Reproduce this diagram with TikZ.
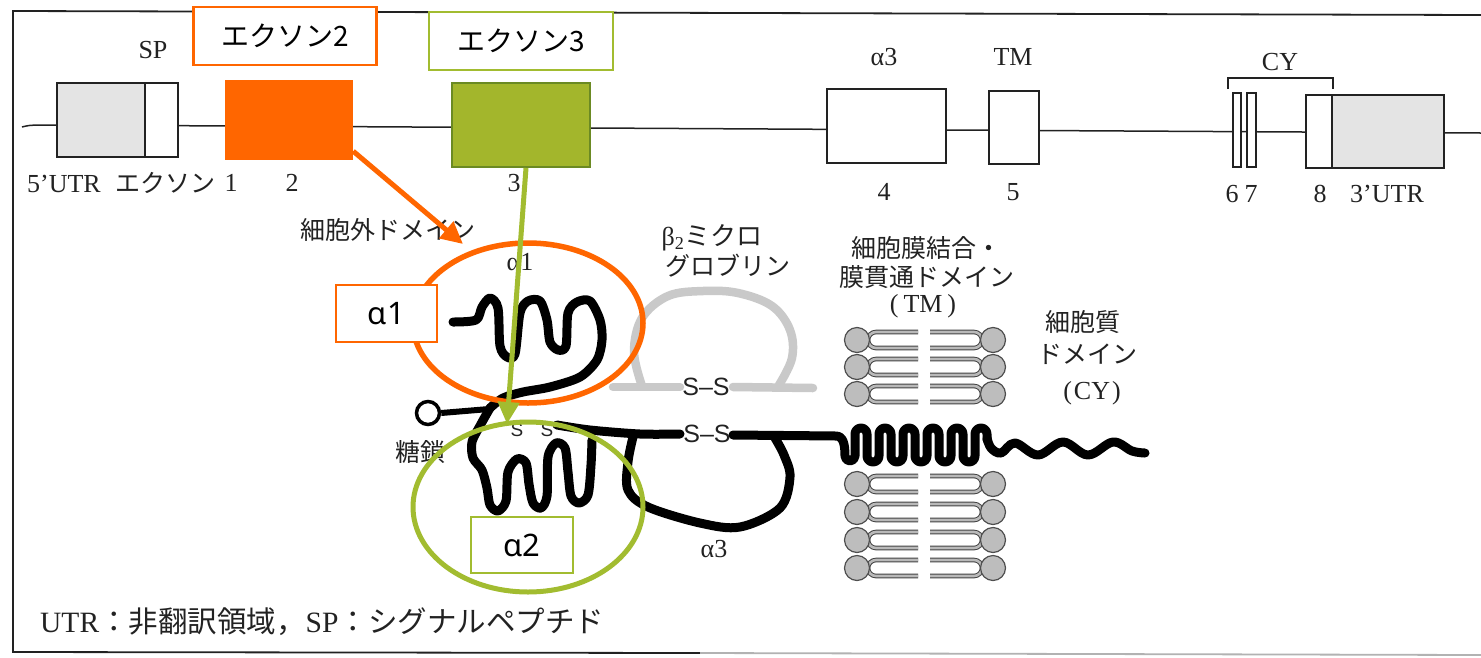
\documentclass[tikz,border=0pt]{standalone}
\usepackage{fontspec}
\setmainfont{Liberation Serif}
\newfontfamily\jp{Noto Sans CJK JP}
\newfontfamily\grk{Noto Sans}
\newfontfamily\ssf{Liberation Sans}
\usetikzlibrary{arrows.meta,calc}
\definecolor{ink}{HTML}{222222}
\definecolor{orng}{HTML}{FF6600}
\definecolor{grnE}{HTML}{A3B62C}
\definecolor{grnD}{HTML}{6B8A23}
\definecolor{grnL}{HTML}{A2BC30}
\definecolor{utrgray}{HTML}{E4E4E4}
\definecolor{btwo}{HTML}{C9C9C9}
\definecolor{lhead}{HTML}{BDBDBD}
\begin{document}
\begin{tikzpicture}[x=1pt,y=-1pt,
  lab/.style={text=ink, inner sep=0pt, font=\fontsize{26}{30}\selectfont},
  jlab/.style={text=ink, inner sep=0pt, font=\jp\fontsize{25}{30}\selectfont},
  sslab/.style={text=ink, inner sep=0pt, font=\ssf\fontsize{25}{30}\selectfont},
  exonbox/.style={draw=ink, line width=1.3pt, fill=white, inner sep=0pt},
  tagbox/.style={fill=white, line width=2.5pt, inner sep=0pt, font=\jp\fontsize{28}{32}\selectfont, text=black},
  dombox/.style={fill=white, line width=2.5pt, inner sep=0pt, font=\grk\fontsize{31}{34}\selectfont, text=black},
  chain/.style={line width=9pt, line cap=round, line join=round, draw=black},
  bchain/.style={line width=8.5pt, line cap=round, line join=round, draw=btwo},
  lipidtail/.style={draw=ink!85, line width=1pt, double=gray!55, double distance=2.6pt},
  lipidhead/.style={circle, draw=ink!80, line width=1.2pt, fill=lhead, minimum size=25pt, inner sep=0pt},
  framel/.style={draw=ink, line width=1.8pt}
]
\fill[white] (0,0) rectangle (1481,657);
\useasboundingbox (0,0) rectangle (1481,657);

% frame
\draw[framel] (1481,15) -- (13,11) -- (13,652) -- (700,653);
\draw[draw=gray!60, line width=1.8pt] (700,653) -- (1481,655);

% gene line
\draw[draw=ink, line width=1.5pt] (22,127) .. controls (30,125) .. (57,125) -- (1481,133);

% exons
\draw[exonbox, fill=utrgray] (57,83) rectangle (145,157);
\draw[exonbox] (145,83) rectangle (178,157);
\node[fill=orng, minimum width=128pt, minimum height=80pt, inner sep=0pt] (ex2) at (289,120) {};
\node[fill=grnE, draw=grnD, line width=2pt, minimum width=138pt, minimum height=84pt, inner sep=0pt] (ex3) at (521,125) {};
\node[exonbox, minimum width=119pt, minimum height=74pt] (ex4) at (886.5,126) {};
\node[exonbox, minimum width=50pt, minimum height=73pt] (ex5) at (1014,127.5) {};
\node[exonbox, minimum width=8pt, minimum height=74pt] (ex6) at (1237,130) {};
\node[exonbox, minimum width=9pt, minimum height=74pt] (ex7) at (1251.5,130) {};
\draw[exonbox] (1306,95) rectangle (1332,168);
\draw[exonbox, fill=utrgray] (1332,95) rectangle (1444,168);
% CY bracket
\draw[draw=ink, line width=1.3pt] (1228,89) -- (1228,78) -- (1333,78) -- (1333,89);

% gene labels
\node[lab] (tSP) at (153,50) {SP};
\node[lab] (ta3) at (884,57) {α3};
\node[lab] (tTM) at (1013,57) {TM};
\node[lab] (tCY) at (1280,62) {CY};
\node[lab] (t5u) at (64,184) {5'UTR};
\node[jlab] (tex) at (165,183) {エクソン};
\node[lab] (t1) at (231,183) {1};
\node[lab] (t2) at (292,183) {2};
\node[lab] (t3) at (514,183) {3};
\node[lab] (t4) at (884,192) {4};
\node[lab] (t5) at (1013,192) {5};
\node[lab] (t6) at (1232,194) {6};
\node[lab] (t7) at (1251,194) {7};
\node[lab] (t8) at (1320,194) {8};
\node[lab] (t3u) at (1387,194) {3'UTR};

% beta2 microglobulin (gray)
\draw[bchain] (613,387) -- (680,387);
\draw[bchain] (733,387) -- (813,388);
\draw[bchain] plot[smooth, tension=0.6] coordinates {(642,386) (634,352) (642,318) (668,296) (703,291) (738,293) (772,306) (790,330) (792,358) (779,385)};

% alpha1 chain
\draw[chain] plot[smooth, tension=0.5] coordinates {(453,322) (476,320) (482,307) (490,298) (498,308) (500,346) (507,357) (515,354) (520,313) (528,301) (540,301) (547,320) (550,342) (558,350) (566,346) (568,313) (577,302) (590,301) (600,320) (602,340) (597,360) (580,377) (550,387) (523,392) (503,398) (490,408)};
% alpha2 chain
\draw[chain] plot[smooth, tension=0.5] coordinates {(490,408) (481,424) (472,442) (473,458) (482,470) (487,488) (490,505) (498,511) (506,501) (508,472) (517,459) (526,463) (529,484) (533,503) (541,508) (547,496) (548,457) (556,443) (565,448) (568,472) (571,496) (579,503) (588,495) (591,465) (592,440)};
\draw[chain] plot[smooth, tension=0.5] coordinates {(557,425) (590,430) (640,434) (680,434)};
% alpha3 loop
\draw[chain] plot[smooth, tension=0.55] coordinates {(633,437) (628,462) (628,490) (648,507) (700,523) (740,527) (780,508) (790,477) (784,455) (775,438)};
% TM + cytoplasmic chain
\draw[chain] (733,435) -- (836,436) .. controls (843,436) and (845,444) .. (845,456) arc[start angle=180,end angle=0,radius=5]
  \foreach \i in {1,...,5} { -- ++(0,-22) arc[start angle=180,end angle=360,radius=6] -- ++(0,22) arc[start angle=180,end angle=0,radius=6] }
  -- ++(0,-22) arc[start angle=180,end angle=360,radius=6] -- ++(0,6);
\draw[chain] plot[smooth, tension=0.6] coordinates {(987,438) (991,448) (1001,453) (1015,443) (1038,455) (1063,442) (1088,455) (1113,442) (1132,451) (1145,453)};

% glycan
\node[circle, draw=black, line width=3.5pt, fill=white, minimum size=23pt, inner sep=0pt] (gly) at (428,413) {};
\draw[draw=black, line width=6pt] (gly.east) -- (489,409);

% lipids
\foreach \y in {340,367,394,484,512,540,568} {
  \draw[lipidtail] (918,\y-8) -- (876,\y-8) arc[start angle=270,end angle=90,radius=8] -- (918,\y+8);
  \draw[lipidtail] (930,\y-8) -- (974,\y-8) arc[start angle=270,end angle=450,radius=8] -- (930,\y+8);
  \node[lipidhead] at (857,\y) {};
  \node[lipidhead] at (993,\y) {};
}

% scan labels
\node[jlab] (tecd) at (388,230) {細胞外ドメイン};
\node[lab] (ta1) at (520,262) {α1};
\node[lab] (tb2a) at (712,238) {β\textsubscript{2}{\jp ミクロ}};
\node[jlab] (tb2b) at (728,266) {グロブリン};
\node[jlab] (ttm1) at (926,248) {細胞膜結合・};
\node[jlab] (ttm2) at (927,277) {膜貫通ドメイン};
\node[lab] (ttm3) at (923,306) {(\kern5pt TM\kern5pt)};
\node[jlab] (tcy1) at (1083,322) {細胞質};
\node[jlab] (tcy2) at (1087,354) {ドメイン};
\node[lab] (tcy3) at (1092,393) {(\kern2pt CY\kern2pt)};
\node[jlab] (tgly) at (420,452) {糖鎖};
\node[lab] (ta3b) at (714,549) {α3};
\node[sslab] (ss1) at (706,387) {S–S};
\node[sslab] (ss2) at (707,434) {S–S};
\node[sslab, font=\ssf\fontsize{19}{22}\selectfont] (sa) at (517,430) {S};
\node[sslab, font=\ssf\fontsize{19}{22}\selectfont] (sb) at (547,430) {S};
\node[lab, anchor=west, font=\fontsize{29.5}{32}\selectfont] (foot) at (40,622) {UTR{\jp ：非翻訳領域，}SP{\jp ：シグナルペプチド}};

% highlight ellipses
\draw[draw=orng, line width=5.5pt] (528,323) ellipse[x radius=115, y radius=80];
\draw[draw=grnL, line width=5pt] (528,507) ellipse[x radius=115, y radius=85];

% arrows
\coordinate (tipA) at (463,244);
\coordinate (tipB) at (507,424);
\draw[draw=orng, line width=5pt, -{Triangle[length=22pt,width=21pt]}] ($(ex2.south east)+(0,-9)$) -- (tipA);
\draw[draw=grnL, line width=5pt, -{Triangle[length=22pt,width=21pt]}] ($(ex3.south)+(5,0)$) -- (tipB);

% tag boxes
\node[tagbox, draw=orng, minimum width=183pt, minimum height=58pt] (lb2) at (285,36) {エクソン2};
\node[tagbox, draw=grnL, minimum width=184pt, minimum height=58pt] (lb3) at (521,41) {エクソン3};
\node[dombox, draw=orng, minimum width=101pt, minimum height=57pt] (bx1) at (386.5,313.5) {α1};
\node[dombox, draw=grnL, minimum width=102pt, minimum height=56pt] (bx2) at (522,545) {α2};
\end{tikzpicture}
\end{document}
